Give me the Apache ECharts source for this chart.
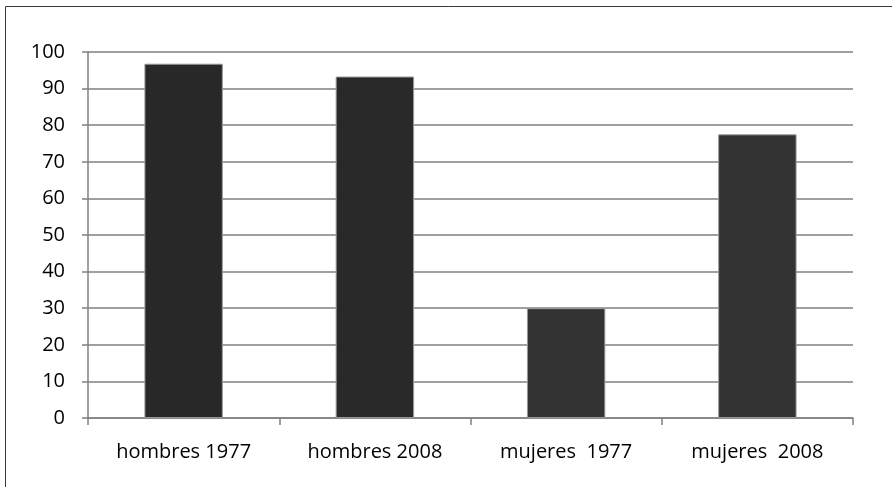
<!DOCTYPE html>
<html>
<head>
<meta charset="utf-8">
<style>
  html, body { margin: 0; padding: 0; background: #fff; }
  #chart { width: 892px; height: 487px; }
</style>
<script src="https://cdn.jsdelivr.net/npm/echarts@6/dist/echarts.min.js"></script>
</head>
<body>
<div id="chart"></div>
<script>
const categories = ['hombres 1977', 'hombres 2008', 'mujeres  1977', 'mujeres  2008']
const values = [96.8, 93.3, 30.0, 77.5]
const yTicks = [0, 10, 20, 30, 40, 50, 60, 70, 80, 90, 100]

const barColors = ['#282828', '#292929', '#333333', '#333333']
const fontFamily = '"Open Sans", sans-serif'

const chart = echarts.init(document.getElementById('chart'))
chart.setOption({
  animation: false,
  grid: {
    left: 88,
    right: 39,
    top: 52,
    bottom: 69
  },
  graphic: [
    {
      type: 'polyline',
      shape: { points: [[5.5, 487], [5.5, 6.5], [892, 6.5]] },
      style: { stroke: '#3a3a3a', lineWidth: 1, fill: null }
    }
  ],
  xAxis: {
    type: 'category',
    data: categories,
    axisLine: { lineStyle: { color: '#808080', width: 1.5 } },
    axisTick: { show: true, length: 7, lineStyle: { color: '#808080', width: 1.5 } },
    axisLabel: {
      color: '#000',
      fontFamily,
      fontSize: 20,
      margin: 24
    }
  },
  yAxis: {
    type: 'value',
    min: yTicks[0],
    max: yTicks[yTicks.length - 1],
    interval: 10,
    axisLine: { show: true, lineStyle: { color: '#808080', width: 1.5 } },
    axisTick: { show: true, length: 6, lineStyle: { color: '#808080', width: 1.5 } },
    splitLine: { lineStyle: { color: '#808080', width: 1.5 } },
    axisLabel: {
      color: '#000',
      fontFamily,
      fontSize: 20,
      margin: 23
    }
  },
  series: [
    {
      type: 'bar',
      barWidth: '41%',
      data: values.map((v, i) => ({
        value: v,
        itemStyle: { color: barColors[i], borderColor: '#9a9a9a', borderWidth: 1 }
      }))
    }
  ]
})
</script>
</body>
</html>
